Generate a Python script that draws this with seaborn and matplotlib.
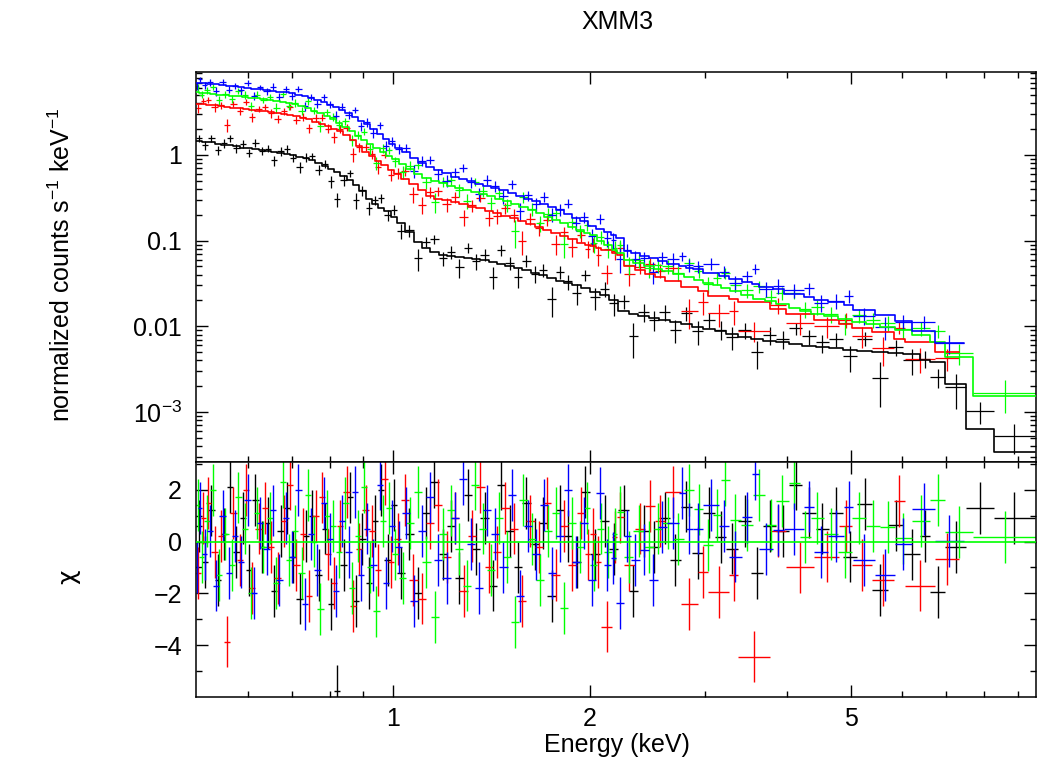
import numpy as np
import matplotlib
matplotlib.use("Agg")
import matplotlib.pyplot as plt
import seaborn as sns
from matplotlib.ticker import FixedLocator, FixedFormatter, NullFormatter, LogLocator

# ---------------- data ----------------
# bin edges in keV, model (normalized counts/s/keV), residual chi, error / model
BLACK_EDGES = [0.500, 0.511, 0.522, 0.534, 0.546, 0.558, 0.570, 0.583, 0.596, 0.609,
               0.623, 0.637, 0.651, 0.666, 0.681, 0.696, 0.712, 0.728, 0.744, 0.761,
               0.778, 0.795, 0.813, 0.831, 0.850, 0.869, 0.888, 0.908, 0.928, 0.949,
               0.970, 0.992, 1.014, 1.044, 1.075, 1.107, 1.140, 1.174, 1.209, 1.245,
               1.282, 1.320, 1.360, 1.400, 1.442, 1.485, 1.530, 1.575, 1.622, 1.671,
               1.721, 1.772, 1.825, 1.880, 1.936, 2.000,
               2.07, 2.14, 2.21, 2.29, 2.37, 2.46, 2.55, 2.65, 2.75, 2.86, 2.98, 3.10,
               3.23, 3.37, 3.52, 3.68, 3.85, 4.03, 4.22, 4.42, 4.64, 4.87, 5.12, 5.40,
               5.70, 6.02, 6.38, 6.62, 6.98, 7.50, 8.27, 9.55]
BLACK_MODEL = [1.47, 1.43, 1.40, 1.36, 1.32, 1.29, 1.26, 1.22, 1.19, 1.16,
               1.14, 1.11, 1.09, 1.06, 1.03, 0.99, 0.95, 0.91, 0.87, 0.80,
               0.75, 0.69, 0.63, 0.57, 0.51, 0.44, 0.38, 0.31, 0.27, 0.24,
               0.22, 0.19, 0.16, 0.125, 0.097, 0.082, 0.073, 0.068, 0.066, 0.065,
               0.063, 0.061, 0.059, 0.056, 0.054, 0.051, 0.048, 0.045, 0.042, 0.040,
               0.037, 0.034, 0.032, 0.030, 0.028,
               0.025, 0.023, 0.020, 0.0150, 0.0140, 0.0132, 0.0125, 0.0118, 0.0111, 0.0105,
               0.0099, 0.0093, 0.0087, 0.0081, 0.0075, 0.0071, 0.0068, 0.0065, 0.0062, 0.0059,
               0.0057, 0.0055, 0.0053, 0.0052, 0.0050, 0.0049, 0.0047, 0.0040, 0.0038, 0.0021,
               0.00063, 0.00034]
BLACK_CHI = [0.6, -0.8, 1.2, -1.5, 0.3, 2.1, -0.4, 0.9, -1.1, 1.6,
             -0.2, 0.7, -1.9, 0.4, 1.3, -0.6, -2.2, 0.2, 1.0, -1.3,
             0.5, -2.4, -5.76, -0.9, 1.7, -2.3, 0.1, -1.6, 0.8, 2.0,
             -0.7, 1.4, -1.2, 0.3, -2.0, 1.1, 2.3, -0.5, 0.6, -1.4,
             1.8, -0.3, 0.9, -1.7, 2.2, 0.4, -1.0, 1.5, -0.1, 0.7,
             -2.1, 1.2, 0.2, -0.8, 1.9,
             -0.5, 0.8, -0.3, 1.2, -1.9, 0.4, -0.2, 0.9, -0.7, 1.35,
             -0.43, 1.12, 0.19, -0.27, 0.79, -1.2, 0.59, 0.4, 2.2, 1.12,
             0.5, 1.12, -0.58, 1.45, -1.86, 0.62, -0.5, 0.2, -1.96, -0.2,
             1.28, 0.92]
BLACK_RELERR = [0.10, 0.11, 0.10, 0.11, 0.12, 0.10, 0.11, 0.11, 0.10, 0.12,
                0.11, 0.10, 0.11, 0.12, 0.11, 0.10, 0.11, 0.12, 0.11, 0.12,
                0.11, 0.12, 0.09, 0.13, 0.12, 0.14, 0.13, 0.14, 0.13, 0.15,
                0.14, 0.15, 0.16, 0.17, 0.18, 0.17, 0.18, 0.17, 0.19, 0.18,
                0.17, 0.19, 0.18, 0.19, 0.20, 0.19, 0.21, 0.20, 0.22, 0.20,
                0.21, 0.22, 0.21, 0.23, 0.22,
                0.25, 0.24, 0.26, 0.25, 0.24, 0.26, 0.25, 0.27, 0.25, 0.26,
                0.27, 0.25, 0.26, 0.28, 0.26, 0.25, 0.27, 0.26, 0.24, 0.26,
                0.27, 0.25, 0.28, 0.26, 0.27, 0.25, 0.28, 0.24, 0.17, 0.40,
                0.48, 0.60]

RED_EDGES = [0.500, 0.508, 0.517, 0.528, 0.540, 0.552, 0.564, 0.577, 0.590, 0.603,
             0.616, 0.630, 0.644, 0.659, 0.674, 0.689, 0.704, 0.720, 0.736, 0.753,
             0.770, 0.787, 0.804, 0.822, 0.840, 0.859, 0.878, 0.898, 0.918, 0.939,
             0.960, 0.981, 1.003, 1.029, 1.059, 1.090, 1.123, 1.156, 1.190, 1.226,
             1.263, 1.301, 1.340, 1.380, 1.421, 1.463, 1.507, 1.552, 1.598, 1.646,
             1.695, 1.746, 1.798, 1.852, 1.908, 1.965, 2.000,
             2.04, 2.08, 2.16, 2.20, 2.25, 2.34, 2.43, 2.51, 2.60, 2.75, 2.92, 3.03,
             3.26, 3.37, 3.77, 3.98, 4.40, 4.80, 5.03, 5.40, 5.82, 6.05, 6.72, 7.31]
RED_MODEL = [3.97, 3.92, 3.85, 3.78, 3.72, 3.65, 3.58, 3.50, 3.42, 3.35,
             3.28, 3.22, 3.15, 3.07, 3.00, 2.92, 2.83, 2.72, 2.60, 2.45,
             2.27, 2.15, 2.00, 1.88, 1.70, 1.50, 1.27, 1.08, 0.97, 0.86,
             0.77, 0.66, 0.60, 0.53, 0.46, 0.39, 0.33, 0.31, 0.295, 0.28,
             0.265, 0.25, 0.237, 0.222, 0.21, 0.196, 0.182, 0.168, 0.156, 0.145,
             0.133, 0.122, 0.113, 0.104, 0.095, 0.089,
             0.086, 0.082, 0.077, 0.072, 0.068, 0.050, 0.045, 0.041, 0.038, 0.034,
             0.029, 0.026, 0.0225, 0.0210, 0.0190, 0.0160, 0.0140, 0.0118, 0.0105, 0.0095,
             0.0085, 0.0071, 0.0065, 0.0050]
RED_CHI = [-1.2, 0.9, 1.5, -0.4, 0.2, -3.86, 1.1, -0.7, 2.0, -1.8,
           0.5, 1.3, -0.2, -1.4, 0.8, 2.2, -0.9, 0.3, -2.1, 1.0,
           1.7, -0.5, -1.6, 0.6, 1.9, -2.5, -0.3, 1.2, 0.4, -1.1,
           2.4, -0.8, 0.1, 1.6, -1.5, -2.2, 0.7, 1.4, -0.6, 0.9,
           -1.9, 0.2, 2.1, -1.0, -0.4, 1.3, 0.5, -2.3, 0.8, -0.2,
           1.5, -1.3, 0.6, -0.9, 1.1, -0.5,
           0.3, -0.8, -3.28, 0.17, 0.93, -0.89, 0.5, 1.37, 0.79, 1.9,
           -2.4, -1.17, -1.96, -1.3, -4.44, 0.4, -1.0, -0.58, 0.6, -0.89,
           -1.47, 1.56, -1.7, -0.66]
RED_RELERR = [0.10, 0.09, 0.10, 0.11, 0.10, 0.10, 0.09, 0.10, 0.11, 0.10,
              0.09, 0.10, 0.11, 0.10, 0.10, 0.11, 0.10, 0.11, 0.10, 0.11,
              0.12, 0.11, 0.12, 0.11, 0.12, 0.13, 0.12, 0.13, 0.12, 0.14,
              0.13, 0.14, 0.15, 0.14, 0.16, 0.15, 0.16, 0.15, 0.17, 0.16,
              0.15, 0.17, 0.16, 0.17, 0.18, 0.17, 0.19, 0.18, 0.19, 0.18,
              0.20, 0.19, 0.18, 0.20, 0.19, 0.20,
              0.20, 0.21, 0.14, 0.22, 0.21, 0.22, 0.21, 0.23, 0.22, 0.21,
              0.20, 0.22, 0.19, 0.22, 0.12, 0.23, 0.22, 0.24, 0.23, 0.22,
              0.24, 0.23, 0.21, 0.24]

GREEN_EDGES = [0.500, 0.506, 0.514, 0.525, 0.536, 0.548, 0.561, 0.574, 0.587, 0.600,
               0.613, 0.627, 0.641, 0.656, 0.671, 0.686, 0.701, 0.717, 0.733, 0.749,
               0.766, 0.783, 0.800, 0.818, 0.836, 0.855, 0.874, 0.893, 0.913, 0.933,
               0.954, 0.975, 0.997, 1.020, 1.048, 1.078, 1.109, 1.141, 1.174, 1.208,
               1.243, 1.279, 1.316, 1.354, 1.393, 1.433, 1.474, 1.516, 1.560, 1.605,
               1.651, 1.699, 1.748, 1.799, 1.851, 1.904, 1.959, 2.000,
               2.05, 2.10, 2.16, 2.20, 2.25, 2.33, 2.42, 2.50, 2.58, 2.68, 2.78, 2.88,
               2.98, 3.08, 3.17, 3.27, 3.40, 3.55, 3.70, 3.85, 4.02, 4.18, 4.35, 4.55,
               4.78, 5.02, 5.28, 5.55, 5.85, 6.20, 6.62, 6.98, 7.68, 9.62]
GREEN_MODEL = [5.38, 5.33, 5.25, 5.16, 5.07, 4.98, 4.90, 4.82, 4.74, 4.66,
               4.57, 4.48, 4.38, 4.28, 4.18, 4.06, 3.92, 3.72, 3.52, 3.30,
               3.05, 2.85, 2.60, 2.38, 2.12, 1.90, 1.68, 1.50, 1.35, 1.19,
               1.08, 0.98, 0.90, 0.79, 0.69, 0.60, 0.54, 0.50, 0.465, 0.435,
               0.41, 0.39, 0.37, 0.35, 0.33, 0.31, 0.29, 0.27, 0.25, 0.23,
               0.21, 0.19, 0.175, 0.16, 0.145, 0.133, 0.124,
               0.115, 0.100, 0.088, 0.078, 0.072, 0.060, 0.055, 0.050, 0.047, 0.044,
               0.041, 0.038, 0.035, 0.032, 0.030, 0.028, 0.026, 0.023, 0.021, 0.0195,
               0.0180, 0.0165, 0.0152, 0.0140, 0.0130, 0.0120, 0.0112, 0.0105, 0.0098, 0.0090,
               0.0080, 0.0065, 0.00436, 0.00153]
GREEN_CHI = [1.4, -0.6, 0.8, 2.0, -1.3, 0.3, -0.9, 1.7, 0.5, -2.0,
             1.1, -0.2, 0.9, -1.6, 2.3, -0.7, 0.4, -1.2, 1.8, 0.0,
             -2.6, 1.0, 0.6, -0.4, 1.5, -1.8, 0.2, 2.1, -1.0, -2.7,
             0.8, 1.3, -0.5, -1.4, 0.7, 1.9, -0.8, -2.9, 0.3, 1.2,
             -0.3, -1.7, 2.2, 0.5, -1.1, 0.9, -0.6, -3.1, 1.6, 0.1,
             -1.5, 0.4, 1.1, -2.55, 0.7, -0.2, 1.3,
             -0.9, 0.5, -0.4, 0.3, 1.15, -0.6, 0.4, -0.2, 0.5, 0.7,
             0.1, 1.99, 1.24, -0.14, 1.01, 2.36, 0.82, 0.65, 1.81, 0.65,
             1.56, 2.25, 0.19, 0.9, 0.3, -0.4, 0.9, 0.6, 0.57, 0.12,
             0.8, 1.6, 0.36, 0.17]
GREEN_RELERR = [0.10, 0.09, 0.10, 0.10, 0.11, 0.10, 0.09, 0.10, 0.11, 0.10,
                0.10, 0.09, 0.10, 0.11, 0.10, 0.10, 0.11, 0.10, 0.11, 0.10,
                0.11, 0.11, 0.11, 0.12, 0.11, 0.12, 0.11, 0.12, 0.13, 0.12,
                0.13, 0.12, 0.13, 0.14, 0.13, 0.15, 0.14, 0.15, 0.14, 0.15,
                0.16, 0.15, 0.14, 0.16, 0.16, 0.17, 0.16, 0.17, 0.18, 0.17,
                0.16, 0.18, 0.17, 0.17, 0.18, 0.17, 0.18,
                0.20, 0.19, 0.21, 0.20, 0.19, 0.21, 0.20, 0.22, 0.20, 0.21,
                0.20, 0.22, 0.21, 0.20, 0.22, 0.21, 0.20, 0.22, 0.22, 0.21,
                0.23, 0.22, 0.21, 0.23, 0.22, 0.24, 0.22, 0.23, 0.22, 0.24,
                0.23, 0.22, 0.30, 0.45]

BLUE_EDGES = [0.500, 0.504, 0.511, 0.520, 0.531, 0.543, 0.555, 0.567, 0.580, 0.593,
              0.606, 0.620, 0.634, 0.648, 0.663, 0.678, 0.693, 0.709, 0.725, 0.741,
              0.758, 0.775, 0.792, 0.810, 0.828, 0.846, 0.865, 0.884, 0.903, 0.923,
              0.944, 0.965, 0.986, 1.008, 1.033, 1.062, 1.092, 1.124, 1.157, 1.190,
              1.225, 1.261, 1.298, 1.335, 1.374, 1.413, 1.454, 1.496, 1.539, 1.583,
              1.629, 1.676, 1.724, 1.774, 1.825, 1.878, 1.932, 1.988, 2.045,
              2.10, 2.15, 2.19, 2.25, 2.31, 2.38, 2.46, 2.54, 2.62, 2.73, 2.80, 2.87,
              2.98, 3.15, 3.26, 3.41, 3.53, 3.62, 3.80, 3.95, 4.25, 4.40, 4.62, 4.88,
              5.05, 5.45, 5.85, 6.20, 6.74, 7.44]
BLUE_MODEL = [7.0, 6.95, 6.88, 6.78, 6.66, 6.54, 6.42, 6.30, 6.17, 6.05,
              5.93, 5.82, 5.70, 5.60, 5.49, 5.38, 5.24, 5.05, 4.88, 4.66,
              4.42, 4.10, 3.88, 3.62, 3.38, 3.08, 2.80, 2.52, 2.28, 2.02,
              1.76, 1.55, 1.35, 1.22, 1.07, 0.93, 0.81, 0.72, 0.66, 0.61,
              0.56, 0.52, 0.49, 0.46, 0.435, 0.41, 0.39, 0.36, 0.335, 0.31,
              0.29, 0.265, 0.245, 0.225, 0.205, 0.185, 0.170, 0.150,
              0.135, 0.125, 0.115, 0.108, 0.075, 0.071, 0.066, 0.062, 0.058, 0.054,
              0.050, 0.048, 0.046, 0.042, 0.039, 0.036, 0.033, 0.031, 0.029, 0.027,
              0.024, 0.022, 0.0205, 0.0190, 0.0175, 0.0155, 0.0135, 0.0115, 0.0088, 0.0063]
BLUE_CHI = [-1.0, 1.3, -0.5, 0.4, -1.7, 1.0, -1.2, 0.2, -0.8, 1.6,
            -2.0, 0.7, -0.3, 1.2, -1.5, 0.9, -0.6, 2.0, -2.4, 0.3,
            -1.1, 1.5, 0.1, -1.9, 0.8, -0.4, 1.9, -1.3, 0.5, -0.9,
            2.2, -1.6, 0.6, -0.2, 1.1, -2.3, 0.4, 1.7, -0.7, -1.4,
            0.9, 2.4, -0.1, -1.8, 1.2, 0.3, -1.0, 1.8, -2.1, 0.6,
            -0.5, 1.4, -1.2, 0.2, 2.0, -0.8, 0.7, -1.5,
            1.86, -0.9, -0.65, -2.38, 0.2, -0.7, -0.31, -1.5, 0.55, 0.7,
            1.88, 0.5, 0.5, 1.4, 0.6, -0.58, 0.93, 2.6, -0.3, 0.46,
            0.48, 1.35, -0.4, 0.2, 1.33, -0.7, -1.3, -0.1, 1.25, 0.03]
BLUE_RELERR = [0.09, 0.08, 0.09, 0.09, 0.10, 0.09, 0.08, 0.09, 0.10, 0.09,
               0.09, 0.08, 0.09, 0.10, 0.09, 0.09, 0.10, 0.09, 0.10, 0.09,
               0.10, 0.10, 0.10, 0.11, 0.10, 0.11, 0.10, 0.11, 0.12, 0.11,
               0.12, 0.11, 0.12, 0.13, 0.12, 0.13, 0.14, 0.13, 0.14, 0.13,
               0.14, 0.15, 0.14, 0.13, 0.15, 0.15, 0.16, 0.15, 0.16, 0.15,
               0.17, 0.16, 0.15, 0.17, 0.16, 0.17, 0.16, 0.17,
               0.18, 0.17, 0.19, 0.18, 0.17, 0.19, 0.18, 0.20, 0.18, 0.19,
               0.17, 0.19, 0.18, 0.20, 0.18, 0.19, 0.18, 0.20, 0.19, 0.21,
               0.20, 0.19, 0.21, 0.20, 0.22, 0.20, 0.21, 0.20, 0.22, 0.25]

SERIES = [
    ("#000000", BLACK_EDGES, BLACK_MODEL, BLACK_CHI, BLACK_RELERR),
    ("#ff0000", RED_EDGES, RED_MODEL, RED_CHI, RED_RELERR),
    ("#00ff00", GREEN_EDGES, GREEN_MODEL, GREEN_CHI, GREEN_RELERR),
    ("#0000ff", BLUE_EDGES, BLUE_MODEL, BLUE_CHI, BLUE_RELERR),
]

X_MAJOR = [1, 2, 5]
X_MAJOR_LABELS = ["1", "2", "5"]
X_MINOR = [0.6, 0.7, 0.8, 0.9, 3, 4, 6, 7, 8, 9]
Y1_MAJOR = [1e-3, 1e-2, 0.1, 1]
Y1_MAJOR_LABELS = [r"$\mathregular{10^{-3}}$", "0.01", "0.1", "1"]
Y2_MAJOR = [-4, -2, 0, 2]
Y2_MAJOR_LABELS = ["\u22124", "\u22122", "0", "2"]
Y2_MINOR = [-5, -3, -1, 1, 3]

# ---------------- style ----------------
sns.set_theme(style="ticks")
plt.rcParams["font.family"] = ["Liberation Sans", "DejaVu Sans"]
plt.rcParams["mathtext.fontset"] = "custom"
plt.rcParams["mathtext.rm"] = "Liberation Sans"
plt.rcParams["mathtext.it"] = "Liberation Sans:italic"
plt.rcParams["mathtext.bf"] = "Liberation Sans:bold"

FS = 18
W, H = 1039, 761
fig = plt.figure(figsize=(W / 100, H / 100), dpi=100)
ax1 = fig.add_axes([0.18864, 0.39291, 0.80847, 0.51248])
ax2 = fig.add_axes([0.18864, 0.08410, 0.80847, 0.30881], sharex=ax1)

for color, edges, model, chi, relerr in SERIES:
    edges = np.asarray(edges, float)
    model = np.asarray(model, float)
    chi = np.asarray(chi, float)
    relerr = np.asarray(relerr, float)
    lo, hi = edges[:-1], edges[1:]
    cen = np.sqrt(lo * hi)
    err = model * relerr
    data = model + chi * err
    xerr = [cen - lo, hi - cen]
    ax1.errorbar(cen, data, yerr=err, xerr=xerr, fmt="none", ecolor=color,
                 elinewidth=0.9, capsize=0, zorder=2)
    sns.lineplot(x=edges, y=np.append(model, model[-1]), drawstyle="steps-post",
                 color=color, linewidth=1.2, estimator=None, sort=False,
                 ax=ax1, zorder=3)
    ax2.errorbar(cen, chi, yerr=np.ones_like(chi), xerr=xerr, fmt="none",
                 ecolor=color, elinewidth=1.0, capsize=0, zorder=2)

ax2.axhline(0, color="#00ff00", linewidth=1.2, zorder=4)

ax1.set_yscale("log")
ax1.set_xscale("log")
ax1.set_xlim(0.5, 9.6)
ax1.set_ylim(2.6e-4, 9.3)
ax2.set_ylim(-6.0, 3.07)

for ax in (ax1, ax2):
    ax.xaxis.set_major_locator(FixedLocator(X_MAJOR))
    ax.xaxis.set_major_formatter(FixedFormatter(X_MAJOR_LABELS))
    ax.xaxis.set_minor_locator(FixedLocator(X_MINOR))
    ax.xaxis.set_minor_formatter(NullFormatter())
    for sp in ax.spines.values():
        sp.set_color("black")
        sp.set_linewidth(1.1)
    ax.tick_params(which="both", direction="in", top=True, right=True,
                   color="black", width=1.0, labelsize=FS, labelcolor="black")
    ax.tick_params(which="major", length=8.5)
    ax.tick_params(which="minor", length=4.3)
    ax.tick_params(axis="x", which="major", pad=7)
    ax.tick_params(axis="y", which="major", pad=10)
    ax.set_facecolor("white")
    ax.grid(False)

ax1.yaxis.set_major_locator(FixedLocator(Y1_MAJOR))
ax1.yaxis.set_major_formatter(FixedFormatter(Y1_MAJOR_LABELS))
ax1.yaxis.set_minor_locator(LogLocator(base=10, subs=np.arange(2, 10)))
ax1.yaxis.set_minor_formatter(NullFormatter())
ax1.tick_params(labelbottom=False)

ax2.yaxis.set_major_locator(FixedLocator(Y2_MAJOR))
ax2.yaxis.set_major_formatter(FixedFormatter(Y2_MAJOR_LABELS))
ax2.yaxis.set_minor_locator(FixedLocator(Y2_MINOR))
ax2.yaxis.set_minor_formatter(NullFormatter())

fig.text(62 / W, 1 - 265 / H,
         r"normalized counts $\mathregular{s^{-1}}$ $\mathregular{keV^{-1}}$",
         rotation=90, ha="center", va="center", fontsize=FS, color="black")
fig.text(68 / W, 1 - 577 / H, "\u03c7", rotation=90, ha="center", va="center",
         fontsize=FS, color="black", family=["DejaVu Sans"])
fig.text(617 / W, 1 - 745 / H, "Energy (keV)", ha="center", va="center",
         fontsize=FS, color="black")
fig.text(617 / W, 1 - 22 / H, "XMM3", ha="center", va="center",
         fontsize=FS, color="black")

fig.savefig("out.png", dpi=100, facecolor="white")
